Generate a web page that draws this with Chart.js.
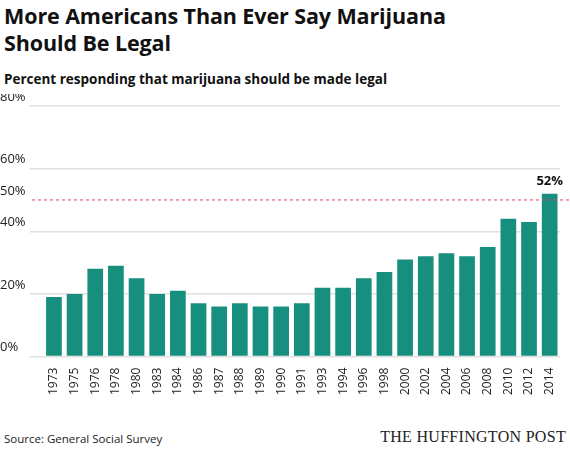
<!DOCTYPE html>
<html><head><meta charset="utf-8">
<script src="https://cdn.jsdelivr.net/npm/chart.js@4/dist/chart.umd.min.js"></script>
<style>
body{margin:0;background:#fff;font-family:"Open Sans",sans-serif;width:570px;height:458px;overflow:hidden;position:relative}
#t{position:absolute;left:4px;top:2px;font-weight:700;font-size:21.5px;line-height:27px;color:#111;letter-spacing:-0.1px}
#s{position:absolute;left:4px;top:70px;font-weight:700;font-size:13.5px;color:#111}
#c{position:absolute;left:0;top:94px;width:570px;height:304px}
#src{position:absolute;left:4px;top:431px;font-size:11.5px;color:#222}
#hp{position:absolute;right:4px;top:428px;font-family:"Liberation Serif",serif;font-size:16px;color:#222;letter-spacing:0.3px}
</style></head><body>
<div id="t">More Americans Than Ever Say Marijuana<br>Should Be Legal</div>
<div id="s">Percent responding that marijuana should be made legal</div>
<div id="c"><canvas id="cv"></canvas></div>
<div id="src">Source: General Social Survey</div>
<div id="hp">THE HUFFINGTON POST</div>
<script>
const years=["1973","1975","1976","1978","1980","1983","1984","1986","1987","1988","1989","1990","1991","1993","1994","1996","1998","2000","2002","2004","2006","2008","2010","2012","2014"];
const legalPct=[19,20,28,29,25,20,21,17,16,17,16,16,17,22,22,25,27,31,32,33,32,35,44,43,52];
const tickLabels=[0,20,40,50,60,80];
const gridValues=[0,20,40,60,80];
const refValue=50;
const extras={id:'extras',afterDatasetsDraw(ch){
 const {ctx,chartArea:a,scales:{x,y}}=ch;
 const py=y.getPixelForValue(refValue);
 ctx.save();ctx.strokeStyle='#e0455a';ctx.lineWidth=1;ctx.setLineDash([3,3]);
 ctx.beginPath();ctx.moveTo(32,py);ctx.lineTo(a.right+10,py);ctx.stroke();
 const i=legalPct.length-1;
 const px=x.getPixelForValue(i),ty=y.getPixelForValue(legalPct[i]);
 ctx.setLineDash([]);ctx.fillStyle='#111';ctx.font='bold 13px "Open Sans"';ctx.textAlign='center';ctx.textBaseline='bottom';
 ctx.fillText(legalPct[i]+'%',px,ty-6);ctx.restore();}};
new Chart(document.getElementById('cv'),{type:'bar',
 data:{labels:years,datasets:[{data:legalPct,backgroundColor:'#178f7f',categoryPercentage:0.95,barPercentage:0.8}]},
 options:{responsive:true,maintainAspectRatio:false,animation:false,
  layout:{padding:{left:0,right:10,top:12,bottom:0}},
  plugins:{legend:{display:false},tooltip:{enabled:false}},
  scales:{
   x:{grid:{display:false},border:{display:false},ticks:{color:'#222',font:{size:12,family:'Open Sans'},maxRotation:90,minRotation:90,autoSkip:false}},
   y:{min:0,max:80,border:{display:false},
    ticks:{stepSize:10,color:'#222',font:{size:13,family:'Open Sans'},labelOffset:-9,padding:2,crossAlign:'far',
      callback:v=>tickLabels.includes(v)?v+'%':''},
    grid:{tickLength:14,lineWidth:1.5,color:c=>gridValues.includes(c.tick.value)?'#e0e0e0':'rgba(0,0,0,0)'}}}},
 plugins:[extras]});
</script></body></html>
